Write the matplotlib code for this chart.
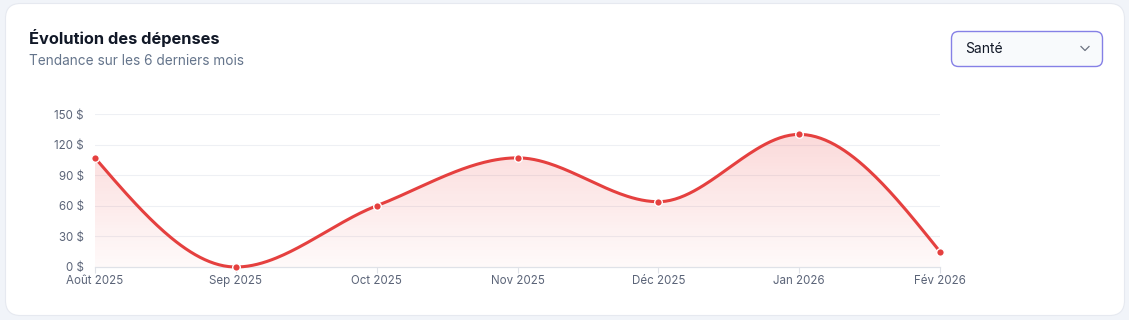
import numpy as np
import matplotlib
matplotlib.use("Agg")
import matplotlib.pyplot as plt
from matplotlib.patches import FancyBboxPatch, PathPatch
from matplotlib.path import Path
from matplotlib.colors import LinearSegmentedColormap

plt.rcParams['font.family'] = ['Inter', 'DejaVu Sans']

# ---- data ----
months = ["Août 2025", "Sep 2025", "Oct 2025", "Nov 2025", "Déc 2025", "Jan 2026", "Fév 2026"]
values = [107, 0, 60, 107, 64, 130, 15]
y_ticks = [0, 30, 60, 90, 120, 150]
y_tick_labels = [f"{v} $" for v in y_ticks]
title = "Évolution des dépenses"
subtitle = "Tendance sur les 6 derniers mois"
category = "Santé"

LINE = "#e5403f"
W, H = 1129, 320

fig = plt.figure(figsize=(W / 100, H / 100), dpi=100)
fig.patch.set_facecolor("#f1f4f9")

# card
bg = fig.add_axes([0, 0, 1, 1])
bg.set_xlim(0, W); bg.set_ylim(H, 0); bg.axis("off")
card = FancyBboxPatch((5.5, 3.5), 1119, 312, boxstyle="round,pad=0,rounding_size=15",
                      facecolor="white", edgecolor="#e6e9f0", linewidth=0.8)
bg.add_patch(card)
# dropdown
dd = FancyBboxPatch((951.5, 31.5), 151, 35, boxstyle="round,pad=0,rounding_size=7",
                    facecolor="#f8fafc", edgecolor="#8580e6", linewidth=1.0)
bg.add_patch(dd)
bg.text(965, 49, category, fontsize=10, color="#111827", va="center", ha="left")
bg.plot([1081, 1085, 1089], [46.5, 50.5, 46.5], color="#6b7280", lw=0.9)
bg.text(29, 38, title, fontsize=11.8, fontweight="bold", color="#111827", va="center", ha="left")
bg.text(29, 61, subtitle, fontsize=9.8, color="#64748b", va="center", ha="left")

# plot axes
x0, x1 = 95, 940
yb, yt = 267, 114
ax = fig.add_axes([x0 / W, (H - yb) / H, (x1 - x0) / W, (yb - yt) / H])
ax.set_facecolor("none")
xs = np.arange(len(months), dtype=float)
ys = np.array(values, dtype=float)


def monotone_x(x, y, n=60):
    k = len(x)
    h = np.diff(x)
    s = np.diff(y) / h
    t = np.zeros(k)
    for i in range(1, k - 1):
        h0, h1 = h[i - 1], h[i]
        s0, s1 = s[i - 1], s[i]
        p = (s0 * h1 + s1 * h0) / (h0 + h1)
        t[i] = (np.sign(s0) + np.sign(s1)) * min(abs(s0), abs(s1), 0.5 * abs(p))
    t[0] = (3 * s[0] - t[1]) / 2
    t[-1] = (3 * s[-1] - t[-2]) / 2
    X, Y = [], []
    for i in range(k - 1):
        dx = h[i] / 3
        P0 = np.array([x[i], y[i]])
        P1 = np.array([x[i] + dx, y[i] + dx * t[i]])
        P2 = np.array([x[i + 1] - dx, y[i + 1] - dx * t[i + 1]])
        P3 = np.array([x[i + 1], y[i + 1]])
        u = np.linspace(0, 1, n)[:, None]
        B = (1 - u) ** 3 * P0 + 3 * (1 - u) ** 2 * u * P1 + 3 * (1 - u) * u ** 2 * P2 + u ** 3 * P3
        X.extend(B[:, 0]); Y.extend(B[:, 1])
    return np.array(X), np.array(Y)


cx, cy = monotone_x(xs, ys)
ax.set_xlim(xs[0], xs[-1])
ax.set_ylim(0, 150)

# gradient fill
grad = np.linspace(0, 1, 256)[:, None]
cmap = LinearSegmentedColormap.from_list("g", [(0.93, 0.27, 0.27, 0.03), (0.93, 0.27, 0.27, 0.2)])
im = ax.imshow(grad, extent=[xs[0], xs[-1], 0, 132], origin="lower", aspect="auto",
               cmap=cmap, zorder=1)
verts = np.vstack([np.column_stack([cx, cy]), [[cx[-1], 0], [cx[0], 0]]])
clip = PathPatch(Path(verts, closed=False), transform=ax.transData, facecolor="none", edgecolor="none")
ax.add_patch(clip)
im.set_clip_path(clip)

ax.plot(cx, cy, color=LINE, lw=2.2, zorder=3, solid_capstyle="round", clip_on=False)
ax.scatter(xs, ys, s=30, color=LINE, edgecolor="white", linewidth=1.0, zorder=4, clip_on=False)

for v in y_ticks[1:]:
    ax.axhline(v, color="#eef0f4", lw=0.8, zorder=0)
for sp in ["top", "right", "left"]:
    ax.spines[sp].set_visible(False)
ax.spines["bottom"].set_color("#dfe2e8")
ax.spines["bottom"].set_linewidth(0.9)

ax.set_yticks(y_ticks)
ax.set_yticklabels(y_tick_labels)
ax.set_xticks(xs)
ax.set_xticklabels(months)
ax.tick_params(axis="y", length=0, pad=8, labelsize=8.3, labelcolor="#5b6478")
ax.tick_params(axis="x", length=4, color="#dfe2e8", pad=2, labelsize=8.3, labelcolor="#5b6478")

fig.savefig("out.png", dpi=100, facecolor=fig.get_facecolor())
